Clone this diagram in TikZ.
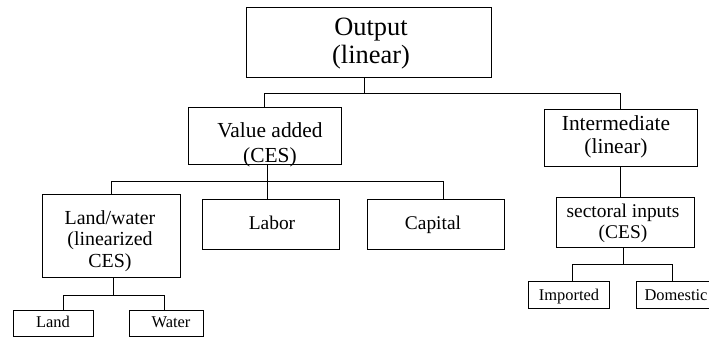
\documentclass[tikz,border=0pt]{standalone}
\usepackage{fontspec}
\setmainfont{Liberation Serif}
\usetikzlibrary{fit}
\tikzset{
  boxn/.style={draw, line width=0.8bp, inner sep=0pt},
  conn/.style={line width=0.8bp},
  lbl/.style={inner sep=0pt, align=center},
}
\begin{document}
\begin{tikzpicture}[x=1bp,y=-1bp]
\useasboundingbox (0,0) rectangle (709,337);
% boxes
\node[boxn, fit={(246,7) (491,77)}] (out) {};
\node[boxn, fit={(188,107) (341,164)}] (va) {};
\node[boxn, fit={(544,109) (697,166)}] (ia) {};
\node[boxn, fit={(42,194) (180,277)}] (lw) {};
\node[boxn, fit={(202,199) (339,249)}] (lab) {};
\node[boxn, fit={(367,199) (504,249)}] (cap) {};
\node[boxn, fit={(556,197) (694,247)}] (sec) {};
\node[boxn, fit={(528,281) (609,308)}] (imp) {};
\node[boxn, fit={(636,281) (714,308)}] (dom) {};
\node[boxn, fit={(13,310) (93,336)}] (land) {};
\node[boxn, fit={(129,310) (203,336)}] (wat) {};
% texts
\node[lbl, font=\fontsize{26.5}{28}\selectfont] (outT) at (371,44) {Output\\(linear)};
\node[lbl, font=\fontsize{21.5}{25}\selectfont] (vaT) at (270,145) {Value added\\(CES)};
\node[lbl, font=\fontsize{21.5}{23}\selectfont] (iaT) at (616,137) {Intermediate\\(linear)};
\node[lbl, font=\fontsize{19.5}{21}\selectfont] (secT) at (623,223) {sectoral inputs\\(CES)};
\node[lbl, font=\fontsize{20}{21.5}\selectfont] (lwT) at (110,241) {Land/water\\(linearized\\CES)};
\node[lbl, anchor=base, font=\fontsize{19.5}{23}\selectfont] (labT) at (272,229) {Labor};
\node[lbl, anchor=base, font=\fontsize{19.5}{23}\selectfont] (capT) at (433,229) {Capital};
\node[lbl, anchor=base, font=\fontsize{16.5}{20}\selectfont] (impT) at (569,300) {Imported};
\node[lbl, anchor=base, font=\fontsize{16.5}{20}\selectfont] (domT) at (676,300) {Domestic};
\node[lbl, anchor=base, font=\fontsize{16.5}{20}\selectfont] (landT) at (53,327) {Land};
\node[lbl, anchor=base, font=\fontsize{16.5}{20}\selectfont] (watT) at (171,327) {Water};
% connectors
\coordinate (b1) at (364,93);
\draw[conn] (out.south -| b1) -- (b1);
\draw[conn] (va.north) -- (va.north |- b1) -- (ia.north |- b1) -- (ia.north);
\coordinate (b2) at (267,181);
\draw[conn] (va.south -| b2) -- (lab.north -| b2);
\coordinate (capd) at (443,181);
\draw[conn] (lw.north) -- (lw.north |- b2) -- (capd) -- (cap.north -| capd);
\draw[conn] (ia.south) -- (ia.south |- sec.north);
\coordinate (b3) at (623,264);
\draw[conn] (sec.south -| b3) -- (b3);
\coordinate (impd) at (572,264);
\coordinate (domd) at (672,264);
\draw[conn] (imp.north -| impd) -- (impd) -- (domd) -- (dom.north -| domd);
\coordinate (b4) at (113,295);
\draw[conn] (lw.south -| b4) -- (b4);
\coordinate (landd) at (63,295);
\coordinate (watd) at (164,295);
\draw[conn] (land.north -| landd) -- (landd) -- (watd) -- (wat.north -| watd);
\end{tikzpicture}
\end{document}
